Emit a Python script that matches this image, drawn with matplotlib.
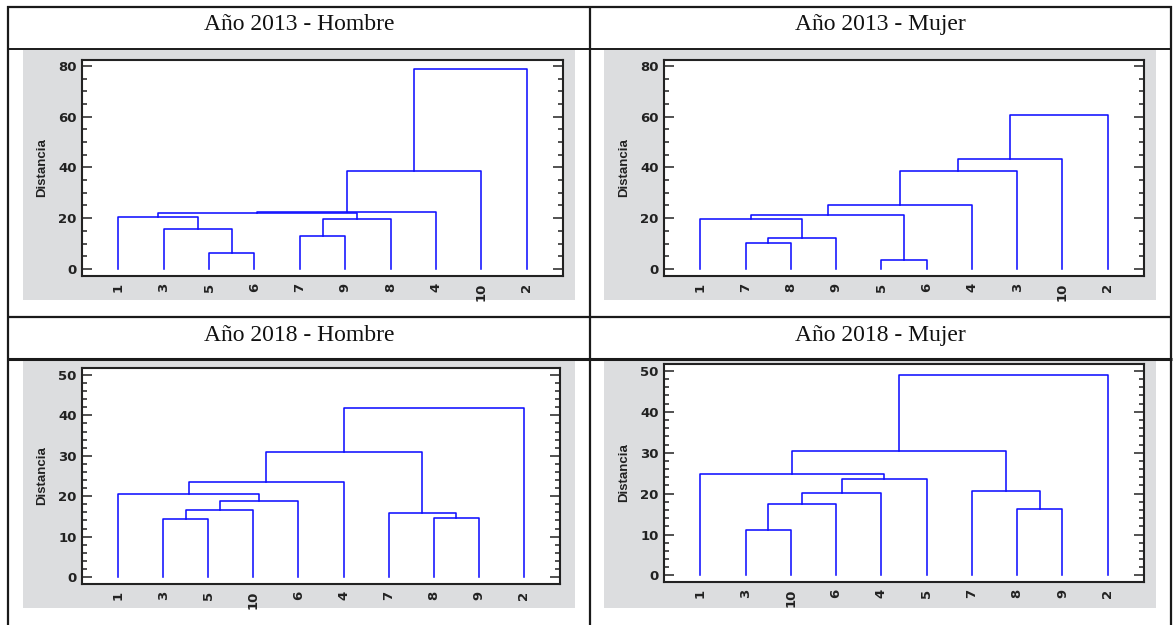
import matplotlib.pyplot as plt
from matplotlib.lines import Line2D
from matplotlib.patches import Rectangle
from matplotlib.ticker import MultipleLocator

W, H = 1175, 625

titles = ["Año 2013 - Hombre", "Año 2013 - Mujer", "Año 2018 - Hombre", "Año 2018 - Mujer"]

# leaf order along the x axis, then merges: (left cluster, right cluster, distance)
order_h13 = [1, 3, 5, 6, 7, 9, 8, 4, 10, 2]
merges_h13 = [
    ((5,), (6,), 6.1),
    ((3,), (5, 6), 15.6),
    ((1,), (3, 5, 6), 20.4),
    ((7,), (9,), 13.0),
    ((7, 9), (8,), 19.7),
    ((1, 3, 5, 6), (7, 9, 8), 21.9),
    ((1, 3, 5, 6, 7, 9, 8), (4,), 22.6),
    ((1, 3, 5, 6, 7, 9, 8, 4), (10,), 38.5),
    ((1, 3, 5, 6, 7, 9, 8, 4, 10), (2,), 78.8),
]

order_m13 = [1, 7, 8, 9, 5, 6, 4, 3, 10, 2]
merges_m13 = [
    ((7,), (8,), 10.1),
    ((7, 8), (9,), 12.1),
    ((1,), (7, 8, 9), 19.7),
    ((5,), (6,), 3.4),
    ((1, 7, 8, 9), (5, 6), 21.4),
    ((1, 7, 8, 9, 5, 6), (4,), 25.0),
    ((1, 7, 8, 9, 5, 6, 4), (3,), 38.6),
    ((1, 7, 8, 9, 5, 6, 4, 3), (10,), 43.4),
    ((1, 7, 8, 9, 5, 6, 4, 3, 10), (2,), 60.7),
]

order_h18 = [1, 3, 5, 10, 6, 4, 7, 8, 9, 2]
merges_h18 = [
    ((3,), (5,), 14.4),
    ((3, 5), (10,), 16.7),
    ((3, 5, 10), (6,), 18.9),
    ((1,), (3, 5, 10, 6), 20.5),
    ((1, 3, 5, 10, 6), (4,), 23.4),
    ((8,), (9,), 14.6),
    ((7,), (8, 9), 15.9),
    ((1, 3, 5, 10, 6, 4), (7, 8, 9), 31.0),
    ((1, 3, 5, 10, 6, 4, 7, 8, 9), (2,), 41.8),
]

order_m18 = [1, 3, 10, 6, 4, 5, 7, 8, 9, 2]
merges_m18 = [
    ((3,), (10,), 11.1),
    ((3, 10), (6,), 17.5),
    ((3, 10, 6), (4,), 20.1),
    ((3, 10, 6, 4), (5,), 23.5),
    ((1,), (3, 10, 6, 4, 5), 24.8),
    ((8,), (9,), 16.3),
    ((7,), (8, 9), 20.6),
    ((1, 3, 10, 6, 4, 5), (7, 8, 9), 30.5),
    ((1, 3, 10, 6, 4, 5, 7, 8, 9), (2,), 48.9),
]

orders = [order_h13, order_m13, order_h18, order_m18]
merges = [merges_h13, merges_m13, merges_h18, merges_m18]

# layout in pixels (left, top, right, bottom)
gray_boxes = [(23, 50, 575, 300), (604, 50, 1156, 300), (23, 361, 575, 608), (604, 361, 1156, 608)]
axes_boxes = [(82, 60, 563, 276), (664, 60, 1144, 276), (82, 368, 560, 584), (664, 364, 1144, 582)]
title_pos = [(299, 30), (880, 30), (299, 341), (880, 341)]
ylims = [(-2.8, 82.3), (-2.8, 82.3), (-1.7, 51.7), (-1.6, 51.7)]
steps = [(20, 5), (20, 5), (10, 2), (10, 2)]

GRAY = "#dcdddf"
BLUE = "#1010ff"
DARK = "#222222"


def fx(x):
    return x / W


def fy(y):
    return 1 - y / H


fig = plt.figure(figsize=(W / 100, H / 100), dpi=100)

for (l, t, r, b) in gray_boxes:
    fig.add_artist(Rectangle((fx(l), fy(b)), fx(r - l), (b - t) / H,
                             transform=fig.transFigure, color=GRAY, lw=0, zorder=0))


def hline(y, x0, x1, lw=1.6):
    fig.add_artist(Line2D([fx(x0), fx(x1)], [fy(y), fy(y)], transform=fig.transFigure,
                          color="#1a1a1a", lw=lw, solid_capstyle="butt"))


def vline(x, y0, y1, lw=1.6):
    fig.add_artist(Line2D([fx(x), fx(x)], [fy(y0), fy(y1)], transform=fig.transFigure,
                          color="#1a1a1a", lw=lw, solid_capstyle="butt"))


hline(7, 7, 1172)
hline(49, 7, 1172, lw=1.4)
hline(317, 7, 1172)
hline(359, 7, 1172, lw=2.2)
vline(8, 6, 625)
vline(590, 6, 625)
vline(1171, 6, 625)

for i in range(4):
    l, t, r, b = axes_boxes[i]
    ax = fig.add_axes([fx(l), fy(b), (r - l) / W, (b - t) / H])

    pos = {frozenset([leaf]): (k + 1, 0.0) for k, leaf in enumerate(orders[i])}
    for left, right, h in merges[i]:
        xa, ha = pos[frozenset(left)]
        xb, hb = pos[frozenset(right)]
        ax.plot([xa, xa, xb, xb], [ha, h, h, hb], color=BLUE, lw=1.15)
        pos[frozenset(left) | frozenset(right)] = ((xa + xb) / 2, h)

    ax.set_xlim(0.2, 10.8)
    ax.set_ylim(*ylims[i])
    ax.set_xticks(range(1, 11))
    ax.set_xticklabels([str(v) for v in orders[i]], rotation=90, fontsize=9.5,
                       fontweight="bold", color=DARK, family="DejaVu Sans")
    ax.tick_params(axis="x", length=0, pad=5)
    ax.yaxis.set_major_locator(MultipleLocator(steps[i][0]))
    ax.yaxis.set_minor_locator(MultipleLocator(steps[i][1]))
    ax.tick_params(axis="y", which="both", direction="in", left=True, right=True,
                   color=DARK, width=1.1)
    ax.tick_params(axis="y", which="major", length=7.2, pad=4, labelsize=9.5, labelcolor=DARK)
    ax.tick_params(axis="y", which="minor", length=3.6)
    for lab in ax.get_yticklabels():
        lab.set_fontweight("bold")
        lab.set_family("DejaVu Sans")
    ax.set_ylabel("Distancia", fontsize=9.5, fontweight="bold", family="Liberation Sans",
                  color=DARK, labelpad=7)
    for sp in ax.spines.values():
        sp.set_linewidth(1.5)
        sp.set_color(DARK)

    x, y = title_pos[i]
    fig.text(fx(x), fy(y), titles[i], ha="center", va="baseline",
             family="Liberation Serif", fontsize=17, color="#111111")

fig.savefig("out.png", dpi=100)
